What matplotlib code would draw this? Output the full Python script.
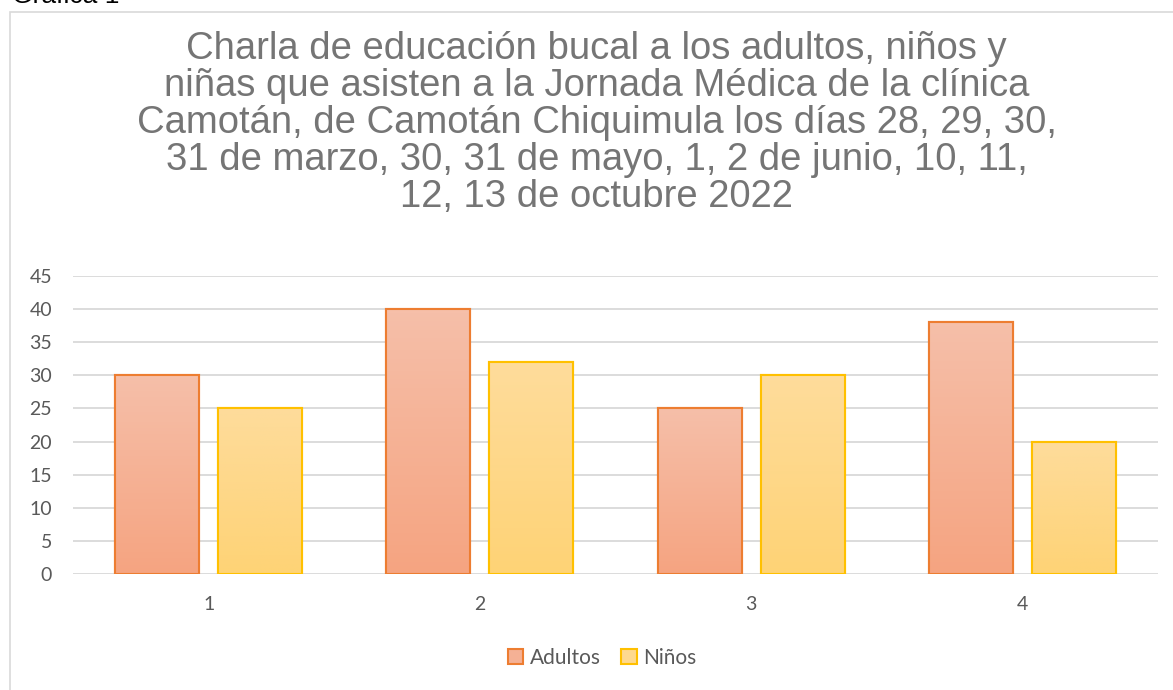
import numpy as np
import matplotlib.pyplot as plt
from matplotlib.patches import Rectangle

categorias = ["1", "2", "3", "4"]
adultos = [30, 40, 25, 38]
ninos = [25, 32, 30, 20]
titulo = ("Charla de educación bucal a los adultos, niños y\n"
          "niñas que asisten a la Jornada Médica de la clínica\n"
          "Camotán, de Camotán Chiquimula los días 28, 29, 30,\n"
          "31 de marzo, 30, 31 de mayo, 1, 2 de junio, 10, 11,\n"
          "12, 13 de octubre 2022")

W, H = 1173, 690
fig = plt.figure(figsize=(W / 100, H / 100), dpi=100)

# marco del grafico (sale por la derecha y abajo)
fig.patches.append(Rectangle((10 / W, -0.05), 1.2, 1 - 12 / H + 0.05,
                             transform=fig.transFigure, fill=False,
                             edgecolor="#D9D9D9", linewidth=1.2))
fig.text(12 / W, 1 + 4 / H, "Gráfica 1", fontsize=19, family="Liberation Sans",
         va="center", ha="left", color="black")

ax = fig.add_axes([73 / W, 1 - 574 / H, (1158 - 73) / W, (574 - 276) / H])
x = np.arange(len(categorias))
ancho = 0.31
desp = 0.19

def grad(c1, c2):
    g = np.linspace(0, 1, 64)[:, None]
    c1 = np.array(c1) / 255
    c2 = np.array(c2) / 255
    return (c1 * (1 - g) + c2 * g)[:, None, :]

serie = [
    (adultos, -desp, "#ED7D31", grad((246, 191, 169), (245, 164, 129)), "Adultos", "#F5B195"),
    (ninos, desp, "#FFC000", grad((254, 220, 155), (254, 211, 118)), "Niños", "#FED98F"),
]
for vals, d, borde, img, nombre, medio in serie:
    bars = ax.bar(x + d, vals, ancho, facecolor=medio, edgecolor=borde,
                  linewidth=1.5, label=nombre, zorder=3)
    for b in bars:
        x0, y0 = b.get_x(), b.get_y()
        ax.imshow(img, extent=[x0, x0 + b.get_width(), y0, y0 + b.get_height()],
                  aspect="auto", origin="upper", zorder=3.5)
        ax.add_patch(Rectangle((x0, y0), b.get_width(), b.get_height(),
                               fill=False, edgecolor=borde, linewidth=1.5, zorder=4))

ax.set_xlim(-0.5, len(categorias) - 0.5)
ax.set_ylim(0, 45)
ax.set_yticks(range(0, 46, 5))
ax.set_xticks(x)
ax.set_xticklabels(categorias)
ax.grid(axis="y", color="#D9D9D9", linewidth=1.3, zorder=0)
for s in ax.spines.values():
    s.set_visible(False)
ax.tick_params(length=0, labelsize=14, labelcolor="#595959")
for lab in ax.get_yticklabels() + ax.get_xticklabels():
    lab.set_family("Lato")
ax.tick_params(axis="x", pad=16)
ax.tick_params(axis="y", pad=15)

fig.text(0.5 + 10 / W, 1 - 123 / H, titulo, ha="center", va="center",
         fontsize=27.5, color="#757575", family="Liberation Sans", linespacing=1.03)

leg = fig.legend(loc="center", bbox_to_anchor=(602 / W, 1 - 658 / H), ncol=2,
                 frameon=False, prop={"family": "Lato", "size": 15},
                 handlelength=0.75, handleheight=0.75, columnspacing=1.0,
                 handletextpad=0.3)
for t in leg.get_texts():
    t.set_color("#595959")

fig.savefig("out.png", dpi=100)
